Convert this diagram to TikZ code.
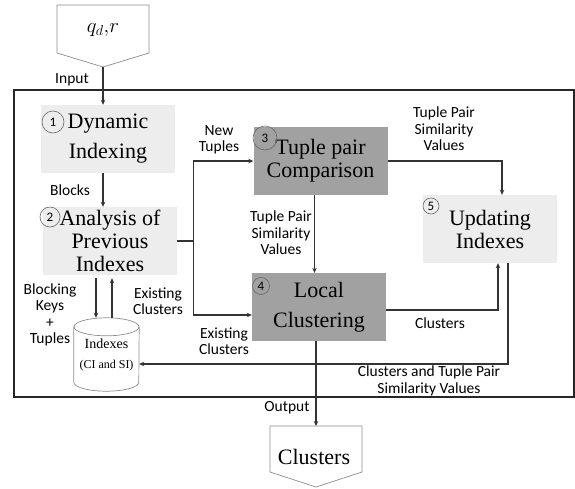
\documentclass[tikz,border=0pt]{standalone}
\usepackage{fontspec}
\setmainfont{Liberation Serif}
\newfontfamily\lblfont{Carlito}
\usetikzlibrary{arrows.meta,calc,positioning}
\begin{document}
\begin{tikzpicture}[x=1pt,y=-1pt,
  stage/.style={minimum width=134pt,minimum height=68pt,inner sep=0pt,align=center,font=\fontsize{22}{23}\selectfont},
  light/.style={stage,fill=black!7},
  dark/.style={stage,fill=black!37},
  numc/.style={circle,draw=black!60,line width=0.6pt,inner sep=0pt,minimum size=#1,font=\lblfont\fontsize{13}{13}\selectfont},
  lbl/.style={align=center,font=\lblfont\fontsize{15.5}{16.5}\selectfont,inner sep=0pt},
  arr/.style={-{Stealth[length=5pt,width=4.5pt]},line width=1.1pt,black!80},
  link/.style={line width=1.1pt,black!80},
  outl/.style={draw=black!45,line width=0.7pt}]
  \useasboundingbox (0,0) rectangle (575,488);
  % frame
  \draw[line width=1.5pt,black!85] (14,90) rectangle (574.2,397);

  % input and output
  \draw[outl] (57,5) -- (149,5) -- (149,53) -- (103,67) -- (57,53) -- cycle;
  \node[font=\fontsize{22}{22}\selectfont] (qr) at (103,30) {$q_{d}{,}r$};
  \coordinate (intip) at (103,67);
  \draw[outl] (270,426) -- (362,426) -- (362,472) -- (316,487) -- (270,472) -- cycle;
  \node[font=\fontsize{22}{22}\selectfont] (out) at (314,457) {Clusters};
  \coordinate (outtop) at (316,426);

  % stages
  \node[light,font=\fontsize{22}{30}\selectfont] (b1) at (108,139) {Dynamic\\Indexing};
  \node[light] (b2) at (110,241) {Analysis of\\Previous\\Indexes};
  \node[dark] (b3) at (320.5,161) {Tuple pair\\Comparison};
  \node[dark,font=\fontsize{22}{30}\selectfont] (b4) at (319,307) {Local\\Clustering};
  \node[light] (b5) at (490,229) {Updating\\Indexes};
  \foreach \n/\x/\y/\s in {1/53/122/22pt,2/50/217/20pt,3/265/138/24pt,4/261/286/17pt,5/431/206/16pt}
    \node[numc=\s] (n\n) at (\x,\y) {\n};

  % index store
  \node[minimum width=65pt,minimum height=73pt,inner sep=0pt,align=center,font=\fontsize{14}{20}\selectfont] (db) at (106.5,354.5) {Indexes\\{\fontsize{12}{12}\selectfont(CI and SI)}};
  \draw[outl] ($(db.north)+(0,9)$) ellipse [x radius=32.5pt,y radius=9pt];
  \draw[outl] ($(db.north west)+(0,9)$) -- ($(db.south west)+(0,-9)$) arc[start angle=180,end angle=360,x radius=32.5pt,y radius=9pt] -- ($(db.north east)+(0,9)$);

  % connectors
  \draw[arr] (intip) -- (intip |- b1.north);
  \draw[arr] (intip |- b1.south) -- (intip |- b2.north);
  \draw[link] (b2.east) -- ++(16,0) coordinate (fork);
  \draw[arr] (fork) |- (b3.west);
  \draw[arr] (fork) |- ($(b4.west)+(0,8)$);
  \coordinate (t34) at ($(b3.south)+(-6,0)$);
  \draw[arr] (t34) -- (t34 |- b4.north);
  \draw[arr] (b3.east) -| ($(b5.north)+(12,0)$);
  \draw[arr] ($(b4.east)+(0,3)$) -| ($(b5.south)+(8,0)$);
  \draw[arr] ($(b5.south)+(18,0)$) |- ($(db.east)+(0,9.5)$);
  \coordinate (kd) at ($(b2.south)+(-14,3)$);
  \draw[arr] (kd) -- (kd |- db.north);
  \coordinate (ku) at ($(db.north)+(5.5,0)$);
  \draw[arr] (ku) -- ($(ku |- b2.south)+(0,3)$);
  \coordinate (o4) at ($(b4.south)+(-3,0)$);
  \draw[arr] (o4) -- (o4 |- outtop);

  % labels
  \node[lbl] (lin) at (72,80) {Input};
  \node[lbl] (lblk) at (70,190) {Blocks};
  \node[lbl] (lnew) at (219,140) {New\\Tuples};
  \node[lbl] (ls35) at (444,129) {Tuple Pair\\Similarity\\Values};
  \node[lbl] (ls34) at (281,233) {Tuple Pair\\Similarity\\Values};
  \node[lbl] (lkey) at (50,315) {Blocking\\Keys\\+\\Tuples};
  \node[lbl] (lex1) at (158,301) {Existing\\Clusters};
  \node[lbl] (lex2) at (224,341) {Existing\\Clusters};
  \node[lbl] (lcl) at (440,323) {Clusters};
  \node[lbl] (lct) at (429,381) {Clusters and Tuple Pair\\Similarity Values};
  \node[lbl] (lout) at (287,408) {Output};
\end{tikzpicture}
\end{document}
